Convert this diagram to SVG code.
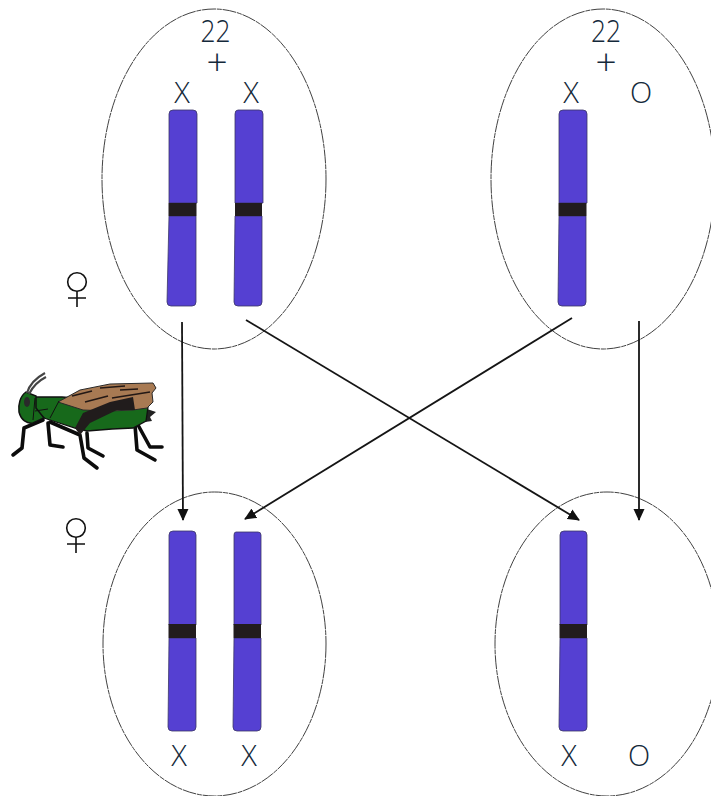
<svg xmlns="http://www.w3.org/2000/svg" width="711" height="796" viewBox="0 0 711 796">
  <style>
    .cell { fill: none; stroke: #2b2b2b; stroke-width: 0.9; stroke-dasharray: 14 0.8 5 0.8; }
    .arm { fill: #5540d2; stroke: #3b3666; stroke-width: 0.8; }
    .band { fill: #221c1e; }
    .lbl { font-family: "Open Sans", "Noto Sans", sans-serif; font-weight: 300; font-size: 29px; fill: #14293a; text-anchor: middle; }
    .cnum { font-size: 31px; }
    .plus { font-size: 37px; }
    .wire { fill: none; stroke: #151515; stroke-width: 1.8; }
    .sym { fill: none; stroke: #111; stroke-width: 1.6; }
    .leg { fill: none; stroke: #0c0c0c; stroke-width: 3.600; stroke-linecap: round; stroke-linejoin: round; }
  </style>
  <defs>
    <marker id="head" viewBox="0 0 12 12" refX="11" refY="6" markerWidth="12" markerHeight="12" markerUnits="userSpaceOnUse" orient="auto">
      <path d="M0 0.5L12 6L0 11.5Z" fill="#111"/>
    </marker>
    <g id="female">
      <circle class="sym" cx="0" cy="0" r="9.300"/>
      <path class="sym" d="M0 9.300V25M-9 16H9"/>
    </g>
  </defs>
  <rect width="711" height="796" fill="#fff"/>

  <g id="cell-top-left">
    <ellipse class="cell" cx="214" cy="179" rx="112" ry="170"/>
    <text class="lbl cnum" x="215.500" y="42" textLength="30" lengthAdjust="spacingAndGlyphs">22</text>
    <text class="lbl plus" x="217" y="75">+</text>
    <text class="lbl" x="182" y="103">X</text>
    <text class="lbl" x="251" y="103">X</text>
    <path class="arm" d="M173 110H193Q197 110 197 114V203H169V114Q169 110 173 110Z"/>
    <path class="arm" d="M169 216H196V302Q196 306 192 306H171Q167 306 167 302Z"/>
    <rect class="band" x="168.500" y="203" width="28" height="13"/>
    <path class="arm" d="M238 110H259Q263 110 263 114V203H235V114Q235 110 238 110Z"/>
    <path class="arm" d="M235 216H262V302Q262 306 258 306H238Q234 306 234 302Z"/>
    <rect class="band" x="235" y="203" width="27" height="13"/>
  </g>

  <g id="cell-top-right">
    <ellipse class="cell" cx="603" cy="179" rx="112" ry="170"/>
    <text class="lbl cnum" x="606" y="42" textLength="30" lengthAdjust="spacingAndGlyphs">22</text>
    <text class="lbl plus" x="606" y="75">+</text>
    <text class="lbl" x="571" y="103">X</text>
    <text class="lbl" x="641" y="103">O</text>
    <path class="arm" d="M563 110H583Q587 110 587 114V203H559V114Q559 110 563 110Z"/>
    <path class="arm" d="M559 216H586V302Q586 306 582 306H562Q558 306 558 302Z"/>
    <rect class="band" x="558.500" y="203" width="28" height="13"/>
  </g>

  <g id="cell-bottom-left">
    <ellipse class="cell" cx="214.500" cy="644" rx="111.500" ry="152"/>
    <path class="arm" d="M173 531H192Q196 531 196 535V625H169V535Q169 531 173 531Z"/>
    <path class="arm" d="M169 638H196V727Q196 731 192 731H172Q168 731 168 727Z"/>
    <rect class="band" x="168.500" y="624" width="27.500" height="14"/>
    <path class="arm" d="M236 532H258Q261 532 261 535V625H234V535Q234 532 236 532Z"/>
    <path class="arm" d="M234 638H261V727Q261 731 257 731H237Q233 731 233 727Z"/>
    <rect class="band" x="233.500" y="624" width="27.500" height="14"/>
    <text class="lbl" x="179" y="766">X</text>
    <text class="lbl" x="249" y="766">X</text>
  </g>

  <g id="cell-bottom-right">
    <ellipse class="cell" cx="607" cy="644" rx="112" ry="152"/>
    <path class="arm" d="M564 531H583Q587 531 587 535V625H560V535Q560 531 564 531Z"/>
    <path class="arm" d="M560 638H587V727Q587 731 583 731H563Q559 731 559 727Z"/>
    <rect class="band" x="559.500" y="624" width="27.500" height="14"/>
    <text class="lbl" x="569" y="766">X</text>
    <text class="lbl" x="639" y="766">O</text>
  </g>

  <g id="connectors">
    <path class="wire" marker-end="url(#head)" d="M182 322L183 520"/>
    <path class="wire" marker-end="url(#head)" d="M246 320L579 520"/>
    <path class="wire" marker-end="url(#head)" d="M572 318L245 519"/>
    <path class="wire" marker-end="url(#head)" d="M639 321V520"/>
  </g>

  <g id="female-upper"><use href="#female" x="77" y="282"/></g>
  <g id="female-lower"><use href="#female" x="76" y="528"/></g>

  <!-- Grasshopper: legs first, then body, wings and dark stripe -->
  <g id="grasshopper">
    <path class="leg" d="M43 420L24 428L22 448L13 455"/>
    <path class="leg" d="M48 423L50 445L63 447"/>
    <path class="leg" d="M50 422L80 435L84 458L97 468"/>
    <path class="leg" d="M87 433L88 448L103 456"/>
    <path class="leg" d="M135 425L137 450L155 460"/>
    <path class="leg" d="M138 425L150 447L162 447"/>
    <path d="M147 409L156 412L150 417L152 421L145 422Z" fill="#222"/>
    <path d="M35 397L62 397L100 400L148 407L146 421L133 428L112 429L87 431L75 428L50 420L44 418L35 410Z" fill="#17691b" stroke="#111" stroke-width="1.300"/>
    <path d="M26 392C20 396 18 405 19 412C21 420 27 424 33 423L44 418L36 408L36 396Z" fill="#17691b" stroke="#111" stroke-width="1.500"/>
    <path d="M58 402L80 390L110 384L153 383L156 388L152 393L153 402L147 408L133 410L110 411L83 410Z" fill="#a87a53" stroke="#2a2a2a" stroke-width="1"/>
    <path d="M75 428L83 413L110 402L133 397L135 410L117 410L90 423L80 435Z" fill="#211c1c"/>
    <path d="M72 396L92 391M85 402L108 396M100 388L125 386M120 390L138 389M112 398L150 392" fill="none" stroke="#231815" stroke-width="1.700"/>
    <path d="M35 398L33 420M35 411L48 409M59 401L50 418" fill="none" stroke="#111" stroke-width="1"/>
    <ellipse cx="27" cy="402" rx="3" ry="5" fill="#2a2a2a"/>
    <path d="M27 393C29 386 34 379 45 373M29 394C33 386 38 381 46 377" fill="none" stroke="#444" stroke-width="2.200"/>
  </g>
</svg>
